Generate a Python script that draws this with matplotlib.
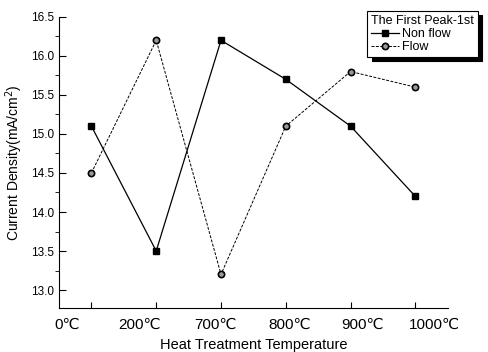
import matplotlib
matplotlib.use("Agg")
import matplotlib.pyplot as plt
from matplotlib.ticker import MultipleLocator

plt.rcParams['font.family'] = ['Liberation Sans', 'DejaVu Sans']

# data
temps = ["0℃", "200℃", "700℃", "800℃", "900℃", "1000℃"]
pos = [1, 2, 3, 4, 5, 6]
label_pos = [0.63, 1.75, 2.91, 4.06, 5.18, 6.29]
non_flow = [15.1, 13.5, 16.2, 15.7, 15.1, 14.2]
flow = [14.5, 16.2, 13.2, 15.1, 15.8, 15.6]

fig = plt.figure(figsize=(4.89, 3.52), dpi=100)
ax = fig.add_axes([0.1207, 0.125, 0.795, 0.827])

ax.plot(pos, non_flow, '-', color='black', lw=0.9, marker='s', ms=5,
        mfc='black', mec='black', label='Non flow')
ax.plot(pos, flow, '--', color='black', lw=0.7, dashes=(3, 1.5), marker='o', ms=4.5,
        mfc='#999999', mec='black', mew=1.2, label='Flow')

ax.set_xlim(0.5, 6.5)
ax.set_ylim(12.77, 16.5)
ax.yaxis.set_major_locator(MultipleLocator(0.5))
ax.yaxis.set_minor_locator(MultipleLocator(0.25))
ax.set_xticks(pos)
ax.set_xticklabels([])
ax.tick_params(axis='both', direction='in', labelsize=8.5)
ax.tick_params(axis='y', which='major', length=5)
ax.tick_params(axis='y', which='minor', length=3)
ax.tick_params(axis='x', length=4)
ax.spines['top'].set_visible(False)
ax.spines['right'].set_visible(False)

# category labels, offset from the ticks as in the original
for x, t in zip(label_pos, temps):
    ax.text(x, -0.035, t, transform=ax.get_xaxis_transform(), ha='center', va='top',
            fontsize=11)

ax.set_xlabel("Heat Treatment Temperature", fontsize=10.5, labelpad=18)
ax.set_ylabel("Current Density(mA/cm$^2$)", fontsize=10)

leg = ax.legend(title="The First Peak-1st", loc='upper right',
                bbox_to_anchor=(484 / 489, 1 - 5 / 352), bbox_transform=fig.transFigure,
                fancybox=False, edgecolor='black', framealpha=1,
                shadow={'color': 'black', 'alpha': 1, 'ox': 3, 'oy': -3},
                fontsize=9, title_fontsize=9, handlelength=2.2,
                borderpad=0.3, labelspacing=0.1, handletextpad=0.3)
leg._legend_box.align = 'left'
leg.get_frame().set_linewidth(0.8)

fig.savefig("out.png", dpi=100)
